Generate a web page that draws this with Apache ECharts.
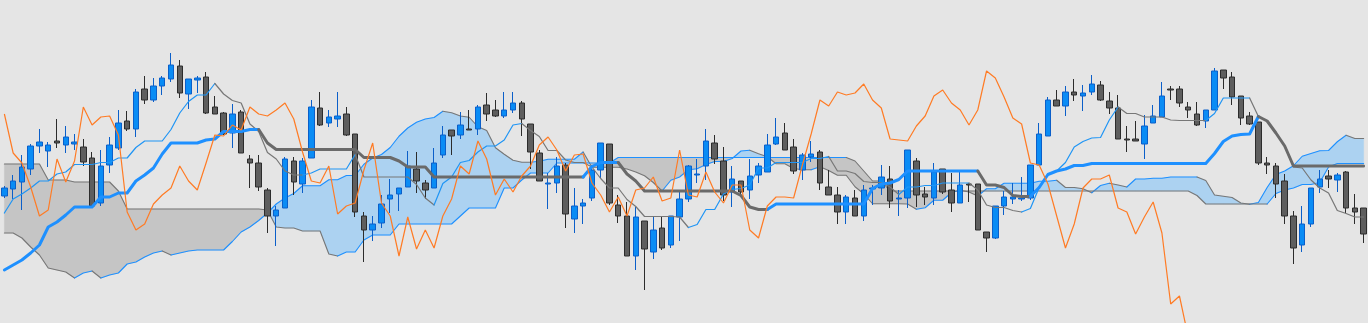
<!DOCTYPE html>
<html><head><meta charset="utf-8">
<script src="https://cdn.jsdelivr.net/npm/echarts@6/dist/echarts.min.js"></script>
<style>html,body{margin:0;padding:0;background:#e5e5e5;}#c{width:1368px;height:323px;}</style>
</head><body><div id="c"></div>
<script>
// price values (arbitrary price units)
const open = [204,211,218,231,254,249,259,255,256,253,
242,197,235,252,279,271,311,300,314,321,
334,306,320,323,293,287,267,288,241,237,
210,184,192,239,216,242,292,277,281,286,
266,184,170,177,201,206,213,231,217,212,
245,270,265,271,271,295,290,284,290,297,
276,247,216,217,235,181,194,202,230,256,
195,184,144,179,148,172,155,183,201,225,
234,257,239,208,219,210,225,228,256,267,
253,230,243,248,213,205,188,202,184,211,
212,221,201,202,239,206,202,231,210,197,
216,216,168,162,194,201,201,202,235,264,
300,294,308,304,308,315,299,292,261,261,
256,277,283,311,311,293,286,279,290,330,
323,304,284,278,237,234,219,184,155,176,
213,224,220,228,192,192];
const close = [212,219,233,254,258,255,257,263,258,238,
194,234,255,277,271,308,300,314,322,335,
307,321,322,287,286,266,286,247,237,213,
184,190,241,218,239,293,275,283,284,265,
188,170,176,196,205,212,234,219,210,237,
265,264,275,270,293,286,284,290,297,281,
248,219,217,234,186,194,197,230,257,197,
184,144,183,151,170,152,184,201,234,226,
259,241,205,221,208,224,234,255,263,250,
229,245,246,217,205,188,203,184,210,212,
223,199,202,250,205,203,228,208,197,215,
215,170,162,194,203,203,202,235,266,300,
294,308,305,307,316,300,292,261,260,259,
274,284,304,310,297,290,275,290,329,322,
303,282,276,237,235,216,184,152,176,212,
221,221,225,192,188,166];
const low = [202,201,190,225,247,233,252,247,250,234,
194,194,227,250,269,263,296,298,305,318,
302,291,307,286,286,265,252,247,212,209,
167,154,192,205,207,242,274,273,273,264,
183,138,159,172,187,189,213,207,201,212,
242,245,261,270,265,279,283,282,287,264,
231,219,191,207,172,167,176,199,222,195,
177,144,130,110,141,150,152,159,198,217,
220,236,199,193,203,201,217,228,255,250,
226,220,238,210,205,176,176,184,179,195,
205,192,184,192,193,195,195,206,188,197,
198,170,148,161,185,196,199,200,235,264,
294,284,299,289,305,299,286,261,248,259,
241,277,283,300,293,282,274,272,290,311,
295,275,275,235,226,202,176,136,148,173,
207,212,208,187,176,157];
const high = [214,225,245,256,271,258,281,274,266,261,
248,250,263,290,289,311,324,322,324,347,
340,321,324,328,304,288,296,290,245,245,
212,194,243,243,242,300,308,290,308,293,
266,188,184,205,221,212,249,248,220,252,
274,270,288,290,295,307,300,308,308,299,
276,250,227,243,237,212,201,235,257,256,
205,198,193,179,183,183,184,208,235,241,
271,265,253,234,219,241,237,266,282,277,
261,247,259,250,230,213,205,210,215,215,
235,234,210,250,242,213,237,231,227,228,
217,216,168,194,209,217,223,235,277,303,
310,314,321,315,325,319,308,305,274,279,
285,295,318,314,314,298,298,290,332,330,
328,304,288,278,243,237,226,189,194,212,
230,230,227,229,206,192];
const tenkan = [187,201,206,212,219,219,226,228,235.5,235.5,
235.5,237.5,237.5,242,242,252.5,259,259,259,270.5,
287,298.5,305,305,316.5,306,299.5,297,276,268.5,
247.5,241,229,225,225,227,231,231,231,231,
245.5,223,223,223,223,223,223,215.5,202,195,
216.5,223,237.5,239.5,248,254,254,260,275,276.5,
269.5,263.5,249.5,249.5,240,237.5,237.5,233,221.5,212,
212,200.5,193.5,183.5,183.5,183.5,183.5,183,172.5,175.5,
190.5,190.5,206,210.5,211.5,215,232,232,237.5,237.5,
237.5,237.5,241.5,241.5,243.5,229,229,226.5,218.5,217.5,
217.5,213,205.5,213,213,214.5,214.5,217,217,217,
217,210,195,192.5,192.5,189.5,188,191.5,212.5,225.5,
229,237.5,253,258.5,262,262.5,280,293,286.5,286.5,
283,283,283,280,279.5,279.5,279.5,279.5,286.5,302,
302,302,302,283.5,279,267,254,233,232,220,
212,207,189.5,186.5,183,183];
const kijun = [130,135,140,147,155,173,178,185,193,193,
193,203,203,207,207,219,225,232,246,257,
257,257,257,260,261,268.5,268.5,268.5,270.5,270.5,
257,250.5,250.5,250.5,250.5,250.5,250.5,250.5,250.5,250.5,
250.5,242.5,242.5,242.5,242.5,239,233,233,233,223,
223,223,223,223,223,223,223,223,223,223,
223,223,223,223,223,223,223,233.5,237.5,237.5,
237.5,226,219,209,209,209,209,209,209,209,
209,209,209,209,204.5,193,190.5,190.5,196,196,
196,196,196,196,196,196,196,196,196,211.5,
216,217,220.5,229,229,229,229,229,229,229,
229,229,215,215,212.5,204.5,203.5,203.5,212.5,225.5,
229,231,234.5,234.5,236.5,236.5,236.5,236.5,236.5,236.5,
236.5,236.5,236.5,236.5,236.5,236.5,236.5,236.5,246.5,258.5,
264,265.5,266,283.5,279,267,254,234,234,234,
234,234,234,234,234,234];
const spanA = [167,167,162,153,145,132,130,128,122,127,
129,122,125,127,136,138,143,147,149,145,
147,149,150,150,150,150,158.5,168,173,179.5,
187,196,202,206.5,214.25,214.25,214.25,220.25,220.25,224.5,
224.5,235.75,242,245.5,252.5,263.75,272,277.75,281,282.5,
288.75,287.25,284,282.75,273.25,269.5,252.25,245.75,239.75,237.75,
237.75,238.75,240.75,240.75,240.75,240.75,248,232.75,232.75,232.75,
232.75,231,228,224.25,217.5,209,219.75,223,230.25,231.25,
235.5,238.5,238.5,241.5,249,249.75,246.25,243.25,236.25,236.25,
231.5,230.25,230.25,233.25,229.5,224.75,224.75,213.25,206.25,196.25,
196.25,196.25,196.25,196,190.75,192.25,199.75,199.75,207.5,209.75,
208,204,211.25,211.25,216.75,216.75,216.75,216.75,218.75,218.75,
219.75,212.5,212.5,211.25,207.25,214.5,216.75,215,213,221,
221,221.75,221.75,223,223,223,223,219.5,205,203.75,
202.5,197,195.75,197.5,212.5,225.5,229,234.25,243.75,246.5,
249.25,249.5,258.25,264.75,261.5,261.5];
const spanB = [236,236,236,236,236,220,220,220,218,218,
218,218,218,209,191,191,191,191,191,191,
191,191,191,191,191,191,191,191,191,191,
190,173,172,172,169,169,169,146,144,148,
148,160,165,165,165,176,176,176,176,176,
176,176,184,192,192,192,192,212,212,220,
227,227,227,237,237,237,237,237,237,237,
242.5,242.5,242.5,242.5,242.5,242.5,242.5,242.5,242.5,242.5,
242.5,242.5,242.5,242.5,242.5,242.5,242.5,242.5,242.5,242.5,
242.5,242.5,242.5,242.5,242.5,242.5,242.5,239,229,219,
219,209,209,209,209,209,209,209,209,209,
209,209,209,209,209,209,209,209,209,209,
209,209,209,209,209,209,209,209,209,209,
209,209,209,209,209,209,204.5,196,196,196,
196,196,196,196,196,206.5,210,212,215.5,215.5,
217.5,233,236.5,236.5,236.5,236.5];
const chikou = [286,247,237,213,184,190,241,218,239,293,
275,283,284,265,188,170,176,196,205,212,
234,219,210,237,265,264,275,270,293,286,
284,290,297,281,248,219,217,234,186,194,
197,230,257,197,184,144,183,151,170,152,
184,201,234,226,259,241,205,221,208,224,
234,255,263,250,229,245,246,217,205,188,
203,184,210,212,223,199,202,250,205,203,
228,208,197,215,215,170,162,194,203,203,
202,235,266,300,294,308,305,307,316,300,
292,261,260,259,274,284,304,310,297,290,
275,290,329,322,303,282,276,237,235,216,
184,152,176,212,221,221,225,192,188,166,
183,198,167,96,104,63,null,null,null,null,
null,null,null,null,null,null,null,null,null,null,
null,null,null,null,null,null];
const bars = open.map((_, i) => 'B' + (i + 1));

const N = open.length;
const BLUE = '#1e90ff', GRAY = '#707070';

function runsOf(arr, initUp) {
  const runs = []; let prev = initUp; let cur = null;
  for (let i = 0; i < N - 1; i++) {
    if (arr[i] == null || arr[i + 1] == null) { cur = null; continue; }
    const up = arr[i + 1] > arr[i] ? true : (arr[i + 1] < arr[i] ? false : prev);
    prev = up;
    if (!cur || cur.up !== up) { cur = { up, start: i, end: i + 1 }; runs.push(cur); }
    else cur.end = i + 1;
  }
  return runs;
}
function dirLine(arr, initUp, width, blue, gray, z) {
  const runs = runsOf(arr, initUp);
  return {
    type: 'custom', z, silent: true, animation: false,
    data: runs.map(r => [r.start, arr[r.start]]),
    encode: { x: 0, y: 1 },
    renderItem(params, api) {
      const r = runs[params.dataIndex];
      const pts = [];
      for (let i = r.start; i <= r.end; i++) pts.push(api.coord([i, arr[i]]));
      return { type: 'polyline', shape: { points: pts },
        style: { stroke: r.up ? blue : gray, lineWidth: width, fill: null, lineJoin: 'round', lineCap: 'round' } };
    }
  };
}
// cloud polygons between spanA and spanB
const polys = [];
(function () {
  let cur = null;
  for (let i = 0; i < N - 1; i++) {
    const d0 = spanA[i] - spanB[i], d1 = spanA[i + 1] - spanB[i + 1];
    const segUp = d0 > 0 || (d0 === 0 && d1 > 0);
    if (!cur) cur = { up: segUp, pts: [[i, 0, spanA[i], spanB[i]]] };
    else if (cur.up !== segUp && !(d0 * d1 < 0)) {
      polys.push(cur); cur = { up: segUp, pts: [[i, 0, spanA[i], spanB[i]]] };
    }
    if (d0 * d1 < 0) {
      const t = d0 / (d0 - d1);
      const v = spanA[i] + t * (spanA[i + 1] - spanA[i]);
      cur.pts.push([i, t, v, v]); polys.push(cur);
      cur = { up: d1 > 0, pts: [[i, t, v, v]] };
    }
    cur.pts.push([i + 1, 0, spanA[i + 1], spanB[i + 1]]);
  }
  polys.push(cur);
})();
function at(api, x, t, v) {
  const p = api.coord([x, v]);
  if (t > 0) { const q = api.coord([x + 1, v]); p[0] = p[0] + t * (q[0] - p[0]); }
  return p;
}
const cloud = {
  type: 'custom', z: 1, silent: true, animation: false,
  data: polys.map(p => [p.pts[0][0], p.pts[0][2]]),
  encode: { x: 0, y: 1 },
  renderItem(params, api) {
    const p = polys[params.dataIndex];
    const pts = [];
    p.pts.forEach(q => pts.push(at(api, q[0], q[1], q[2])));
    for (let k = p.pts.length - 1; k >= 0; k--) { const q = p.pts[k]; pts.push(at(api, q[0], q[1], q[3])); }
    return { type: 'polygon', shape: { points: pts },
      style: { fill: p.up ? '#acd2f1' : '#c5c5c5', stroke: p.up ? '#acd2f1' : '#c5c5c5', lineWidth: 0.5 } };
  }
};

const chart = echarts.init(document.getElementById('c'), null, { renderer: 'canvas' });
chart.setOption({
  backgroundColor: '#e5e5e5',
  animation: false,
  grid: { left: -5, width: 1373, top: 0, bottom: 0, containLabel: false },
  xAxis: { type: 'category', data: bars, boundaryGap: true, show: false },
  yAxis: { type: 'value', min: 77, max: 400, show: false, splitLine: { show: false } },
  series: [
    cloud,
    dirLine(spanA, false, 1.1, BLUE, '#777777', 2),
    dirLine(spanB, false, 1.1, BLUE, '#777777', 2),
    {
      type: 'candlestick', z: 3, barWidth: 6,
      data: open.map((o, i) => [o, close[i], low[i], high[i]]),
      itemStyle: { color: '#0a8cf5', color0: '#5e5e5e', borderColor: '#0b5fc9', borderColor0: '#2c2c2c', borderWidth: 1 }
    },
    dirLine(tenkan, true, 1.2, '#1f95f5', '#777777', 4),
    dirLine(kijun, true, 3, BLUE, '#6a6a6a', 4),
    {
      type: 'line', z: 5, data: chikou, symbol: 'none', silent: true,
      lineStyle: { color: '#ff7b24', width: 1.2 }, connectNulls: false
    }
  ]
});
</script>
</body></html>
